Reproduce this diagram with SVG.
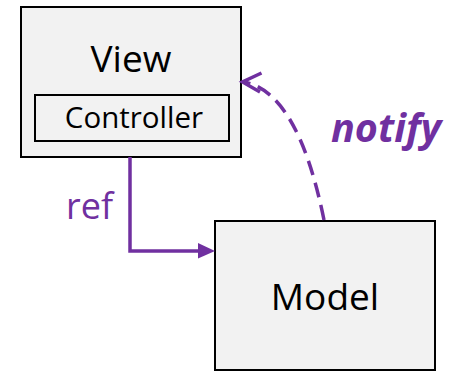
<svg xmlns="http://www.w3.org/2000/svg" width="455" height="371" viewBox="0 0 455 371">
<style>
.box{fill:#f2f2f2;stroke:#000;stroke-width:2}
.lbl{font-family:"Open Sans","Noto Sans",sans-serif;fill:#000;text-anchor:middle}
.edge{fill:none;stroke:#7030a0;stroke-width:3.5}
.elbl{font-family:"Open Sans","Noto Sans",sans-serif;fill:#7030a0}
</style>
<rect width="455" height="371" fill="#fff"/>
<g id="view">
<rect class="box" x="21" y="7" width="220" height="150"/>
<text class="lbl" x="131" y="72" font-size="37">View</text>
</g>
<g id="controller">
<rect class="box" x="35" y="95" width="194" height="46"/>
<text class="lbl" x="134" y="128" font-size="29.5">Controller</text>
</g>
<g id="model">
<rect class="box" x="215" y="221" width="220" height="149"/>
<text class="lbl" x="325" y="310" font-size="37">Model</text>
</g>
<g id="connectors">
<path class="edge" d="M130,157 V251 H199"/>
<path d="M198,243 L215,251 L198,258.5 Z" fill="#7030a0"/>
<path class="edge" d="M324,220 Q298,92 244,82" stroke-dasharray="15 8"/>
<path class="edge" d="M261.5,73 L242.5,82 L260,92" stroke-linejoin="miter"/>
<text class="elbl" x="66" y="219" font-size="36">ref</text>
<text class="elbl" x="331" y="142" font-size="39.5" font-weight="bold" font-style="italic">notify</text>
</g>
</svg>
